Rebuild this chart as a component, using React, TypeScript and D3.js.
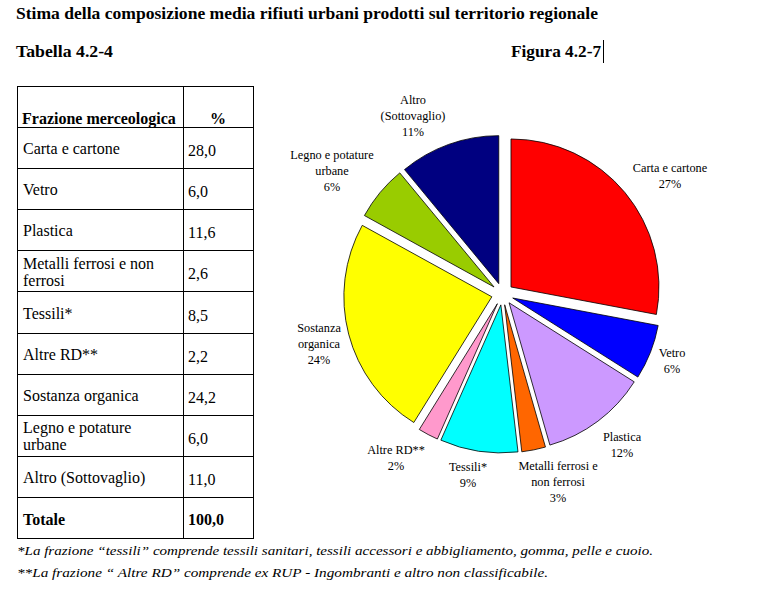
import React from 'react';
import * as d3 from 'd3';

// ---- data ----
const tableCategories: string[][] = [
  ['Carta e cartone'],
  ['Vetro'],
  ['Plastica'],
  ['Metalli ferrosi e non', 'ferrosi'],
  ['Tessili*'],
  ['Altre RD**'],
  ['Sostanza organica'],
  ['Legno e potature', 'urbane'],
  ['Altro (Sottovaglio)'],
];
const values: number[] = [28.0, 6.0, 11.6, 2.6, 8.5, 2.2, 24.2, 6.0, 11.0];
const valueLabels: string[] = ['28,0', '6,0', '11,6', '2,6', '8,5', '2,2', '24,2', '6,0', '11,0'];
const totalLabel = '100,0';
const pieLabels: string[][] = [
  ['Carta e cartone', '27%'],
  ['Vetro', '6%'],
  ['Plastica', '12%'],
  ['Metalli ferrosi e', 'non ferrosi', '3%'],
  ['Tessili*', '9%'],
  ['Altre RD**', '2%'],
  ['Sostanza', 'organica', '24%'],
  ['Legno e potature', 'urbane', '6%'],
  ['Altro', '(Sottovaglio)', '11%'],
];
const colors: string[] = ['#FF0000', '#0000FF', '#CC99FF', '#FF6600', '#00FFFF', '#FF99CC', '#FFFF00', '#99CC00', '#000080'];

// ---- layout ----
const labelPos: [number, number][] = [
  [670, 168], [672, 353], [622, 437], [558, 466], [468, 467], [396, 450], [319, 328], [332, 155], [413, 100],
];
const cx = 502.5, cy = 294, R = 148, explode = 11;
const serif = "'Liberation Serif', 'DejaVu Serif', serif";

export default function App() {
  const pie = d3.pie<number>().sort(null).value(d => d);
  const arcs = pie(values);
  const arc = d3.arc<d3.PieArcDatum<number>>().innerRadius(0).outerRadius(R);

  const tx0 = 17, tx1 = 183, tx2 = 253;
  const headerTop = 86, headerBottom = 127;
  const rowH = 41.1;
  const rowY = d3.range(tableCategories.length + 2).map(i => headerBottom + i * rowH);
  const lines: number[] = [headerTop, ...rowY];

  return (
    <svg width={768} height={594} style={{ position: 'absolute', left: 0, top: 0, background: '#fff', fontFamily: serif }}>
      <rect width={768} height={594} fill="#fff" />
      <text x={16} y={19} style={{ fontFamily: serif }} fontSize={16} fontWeight="bold" textLength={582} lengthAdjust="spacingAndGlyphs">
        Stima della composizione media rifiuti urbani prodotti sul territorio regionale
      </text>
      <text x={16} y={57} style={{ fontFamily: serif }} fontSize={16} fontWeight="bold" textLength={97} lengthAdjust="spacingAndGlyphs">Tabella 4.2-4</text>
      <text x={511} y={57} style={{ fontFamily: serif }} fontSize={16} fontWeight="bold" textLength={90} lengthAdjust="spacingAndGlyphs">Figura 4.2-7</text>
      <line x1={603.5} x2={603.5} y1={40} y2={63} stroke="#000" strokeWidth={1} />

      <g stroke="#000" strokeWidth={1}>
        {lines.map((y, i) => (
          <line key={i} x1={tx0} x2={tx2 + 1} y1={Math.round(y) + 0.5} y2={Math.round(y) + 0.5} />
        ))}
        {[tx0, tx1, tx2].map((x, i) => (
          <line key={'v' + i} x1={x + 0.5} x2={x + 0.5} y1={headerTop} y2={Math.round(rowY[tableCategories.length + 1]) + 1} />
        ))}
      </g>
      <g style={{ fontFamily: serif }}>
        <text x={22} y={124} fontSize={16} fontWeight="bold">Frazione merceologica</text>
        <text x={218} y={124} fontSize={16} fontWeight="bold" textAnchor="middle">%</text>
        {tableCategories.map((ls, i) => {
          const mid = (rowY[i] + rowY[i + 1]) / 2;
          return (
            <g key={i} fontSize={16}>
              {ls.map((l, j) => (
                <text key={j} x={23} y={mid + 1 + (j - (ls.length - 1) / 2) * 17} dy="0.35em">{l}</text>
              ))}
              <text x={188} y={mid + 3} dy="0.35em">{valueLabels[i]}</text>
            </g>
          );
        })}
        {(() => {
          const i = tableCategories.length;
          const mid = (rowY[i] + rowY[i + 1]) / 2;
          return (
            <g fontSize={16} fontWeight="bold">
              <text x={23} y={mid + 2} dy="0.35em">Totale</text>
              <text x={188} y={mid + 2} dy="0.35em">{totalLabel}</text>
            </g>
          );
        })()}
      </g>

      <g transform={`translate(${cx},${cy})`}>
        {arcs.map((a, i) => {
          const m = (a.startAngle + a.endAngle) / 2;
          const dx = Math.sin(m) * explode, dy = -Math.cos(m) * explode;
          return (
            <path key={i} d={arc(a) || ''} transform={`translate(${dx},${dy})`} fill={colors[i]} stroke="#000" strokeWidth={0.8} strokeLinejoin="round" />
          );
        })}
      </g>
      <g style={{ fontFamily: serif }}>
        {pieLabels.map((ls, i) => (
          <g key={i} fontSize={12.3} textAnchor="middle">
            {ls.map((l, j) => (
              <text key={j} x={labelPos[i][0]} y={labelPos[i][1] + j * 15.7} dy="0.35em">{l}</text>
            ))}
          </g>
        ))}
      </g>

      <g style={{ fontFamily: serif }} fontSize={13.5} fontStyle="italic">
        <text x={17} y={555} textLength={636} lengthAdjust="spacingAndGlyphs">
          *La frazione “tessili” comprende tessili sanitari, tessili accessori e abbigliamento, gomma, pelle e cuoio.
        </text>
        <text x={17} y={577} textLength={531} lengthAdjust="spacingAndGlyphs">
          **La frazione “ Altre RD” comprende ex RUP - Ingombranti e altro non classificabile.
        </text>
      </g>
    </svg>
  );
}
